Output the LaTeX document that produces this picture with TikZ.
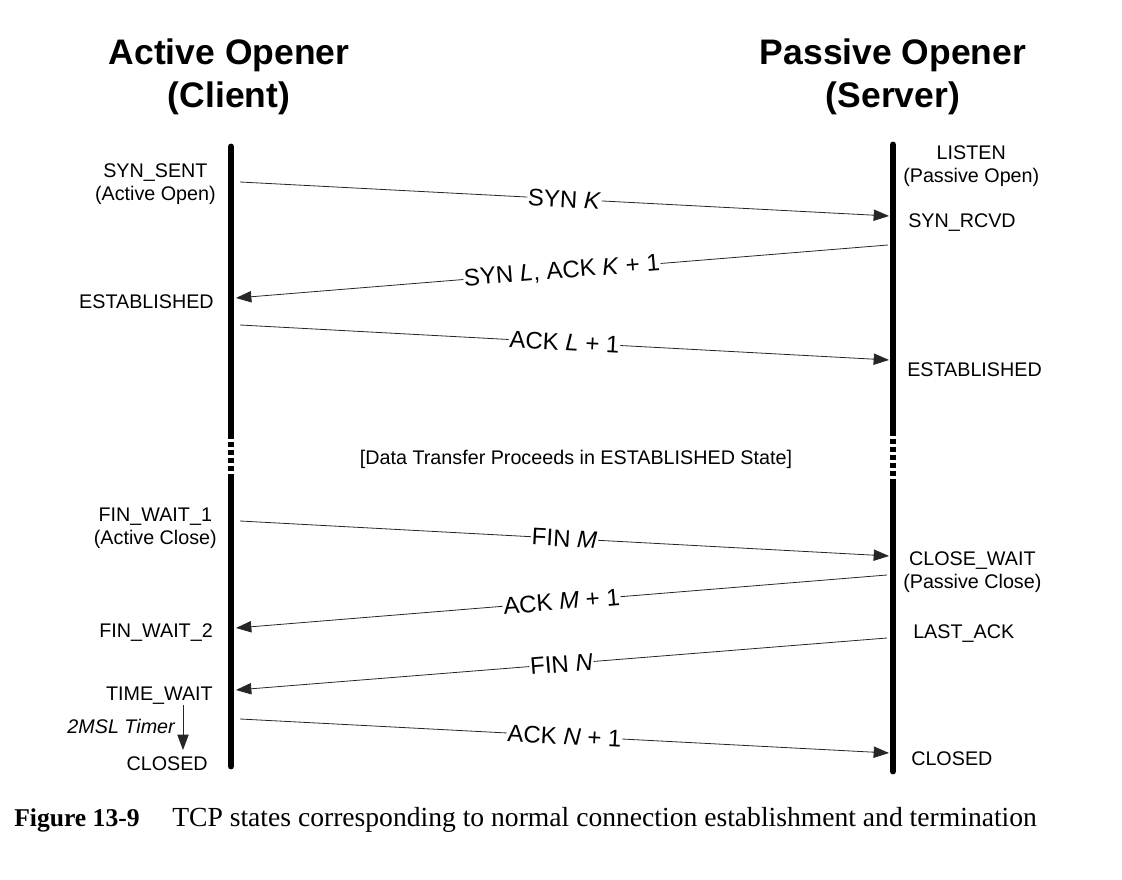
\documentclass[tikz,border=0pt]{standalone}
\usepackage{fontspec}
\setmainfont{Liberation Sans}
\newfontfamily\capfont{Liberation Serif}
\usepackage{tikz}
\usetikzlibrary{
    positioning,
    arrows.meta
}

\begin{document}
\begin{tikzpicture}[x=0.75pt, y=-0.75pt, font=\fontsize{14.8}{17.3}\selectfont,
    hdr/.style={font=\fontsize{26.6}{32.3}\selectfont\bfseries, align=center, inner sep=0pt},
    stl/.style={align=center, inner sep=0pt},
    lane/.style={line width=5.2pt, line cap=round},
    gap/.style={line width=3.9pt, dash pattern=on 3.6pt off 2.4pt},
    msg/.style={-{Triangle[length=11.5pt, width=8.5pt]}, line width=0.6pt, draw=black!85},
    mlab/.style={midway, sloped, fill=white, inner sep=0.6pt, font=\fontsize{18}{20}\selectfont}]

    \useasboundingbox (0,0) rectangle (1122,880);

    % === Headers ===
    \node[hdr] (cli) at (229,77) {Active Opener\\(Client)};
    \node[hdr] (srv) at (893,77) {Passive Opener\\(Server)};

    % === Lifelines ===
    \coordinate (c0) at (231,147);  \coordinate (c1) at (231,434);
    \coordinate (c2) at (231,479);  \coordinate (c3) at (231,766);
    \coordinate (s0) at (893,145);  \coordinate (s1) at (893,431);
    \coordinate (s2) at (893,483);  \coordinate (s3) at (893,771);

    \draw[lane] (c0) -- (c1);
    \draw[gap]  (c1) -- (c2);
    \draw[lane] (c2) -- (c3);
    \draw[lane] (s0) -- (s1);
    \draw[gap]  (s1) -- (s2);
    \draw[lane] (s2) -- (s3);

    % === Client states ===
    \node[stl, anchor=east] (synsent) at (216,184) {SYN\_SENT\\(Active Open)};
    \node[stl, anchor=east] (estc)    at (214,302) {ESTABLISHED};
    \node[stl, anchor=east] (fw1)     at (217,528) {FIN\_WAIT\_1\\(Active Close)};
    \node[stl, anchor=east] (fw2)     at (213,633) {FIN\_WAIT\_2};
    \node[stl, anchor=east] (tw)      at (213,696) {TIME\_WAIT};
    \node[stl, anchor=east, font=\fontsize{14.8}{17.3}\selectfont\itshape] (msl) at (175,726) {2MSL Timer};
    \node[stl, anchor=east] (clc)     at (208,764) {CLOSED};

    \coordinate (t0) at (183,705);
    \coordinate (t1) at (183,750);
    \draw[msg] (t0) -- (t1);

    % === Server states ===
    \node[stl, anchor=west] (listen) at (903,166) {LISTEN\\(Passive Open)};
    \node[stl, anchor=west] (synrcv) at (908,223) {SYN\_RCVD};
    \node[stl, anchor=west] (ests)   at (907,370) {ESTABLISHED};
    \node[stl, anchor=west] (cw)     at (903,572) {CLOSE\_WAIT\\(Passive Close)};
    \node[stl, anchor=west] (la)     at (913,634) {LAST\_ACK};
    \node[stl, anchor=west] (cls)    at (911,759) {CLOSED};

    % === Segments ===
    \coordinate (a1) at (240,182);  \coordinate (b1) at (889,216);
    \coordinate (b2) at (888,245);  \coordinate (a2) at (236,298);
    \coordinate (a3) at (240,325);  \coordinate (b3) at (889,360);
    \coordinate (a4) at (240,521);  \coordinate (b4) at (889,556);
    \coordinate (b5) at (887,575);  \coordinate (a5) at (236,628);
    \coordinate (b6) at (887,638);  \coordinate (a6) at (236,690);
    \coordinate (a7) at (240,719);  \coordinate (b7) at (889,753);

    \draw[msg] (a1) to node[mlab]{SYN \textit{K}} (b1);
    \draw[msg] (b2) to node[mlab]{SYN \textit{L}, ACK \textit{K} + 1} (a2);
    \draw[msg] (a3) to node[mlab]{ACK \textit{L} + 1} (b3);
    \draw[msg] (a4) to node[mlab]{FIN \textit{M}} (b4);
    \draw[msg] (b5) to node[mlab]{ACK \textit{M} + 1} (a5);
    \draw[msg] (b6) to node[mlab]{FIN \textit{N}} (a6);
    \draw[msg] (a7) to node[mlab]{ACK \textit{N} + 1} (b7);

    \node[stl] (data) at (576,459) {[Data Transfer Proceeds in ESTABLISHED State]};

    % === Caption ===
    \node[anchor=base west, inner sep=0pt, font=\capfont\fontsize{19.2}{24}\selectfont\bfseries] (fig) at (14,826) {Figure 13-9};
    \node[anchor=base west, inner sep=0pt, font=\capfont\fontsize{20.7}{24}\selectfont] (cap) at (172,826)
      {TCP states corresponding to normal connection establishment and termination};

\end{tikzpicture}
\end{document}
